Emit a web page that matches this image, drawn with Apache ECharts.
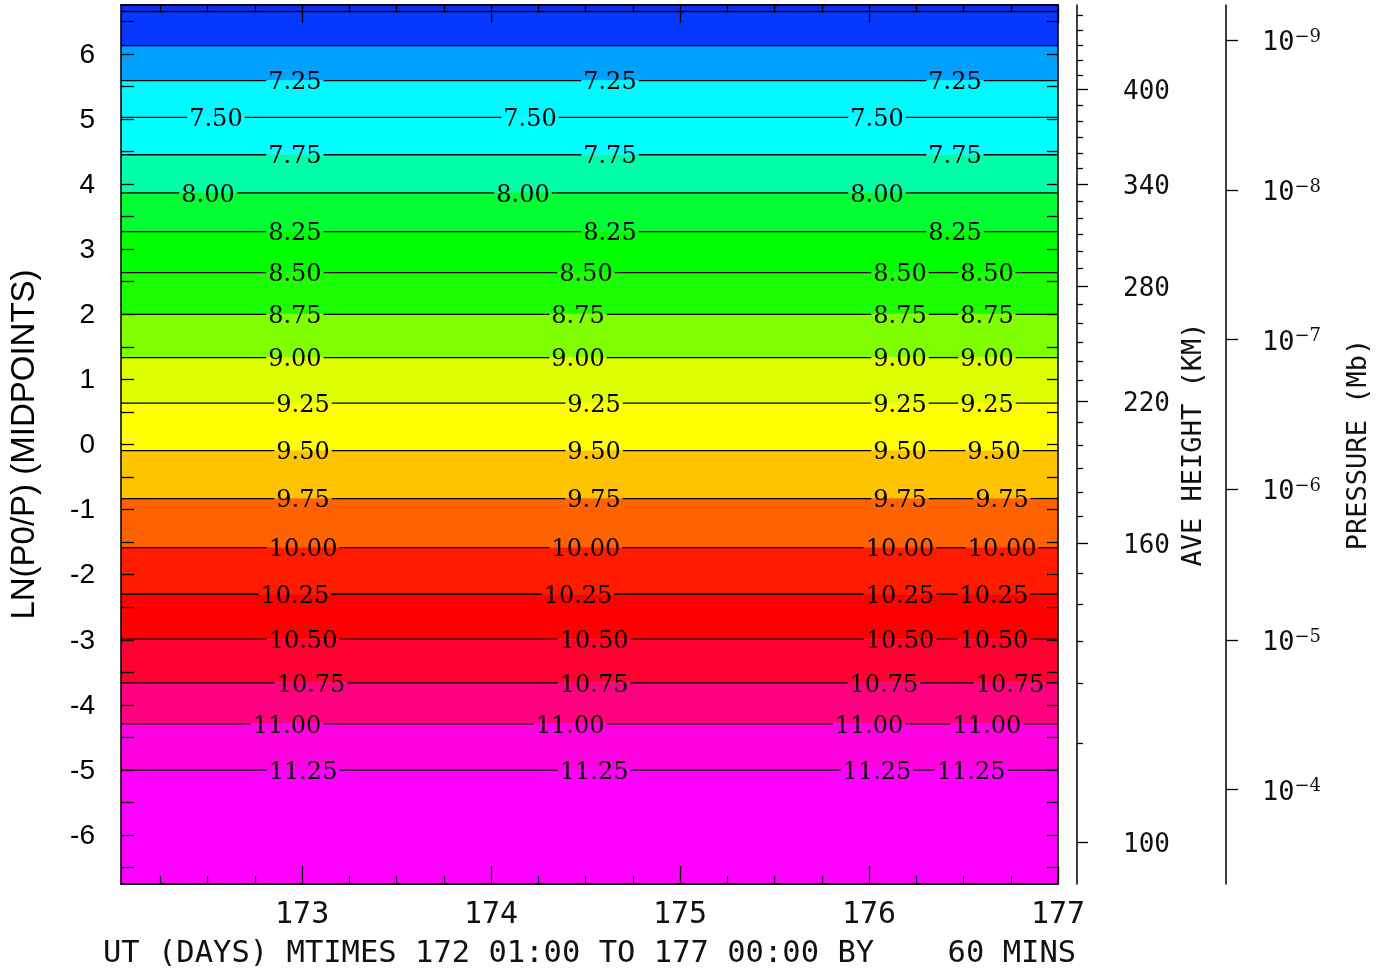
<!DOCTYPE html>
<html>
<head>
<meta charset="utf-8">
<script src="https://cdn.jsdelivr.net/npm/echarts@6/dist/echarts.min.js"></script>
<style>html,body{margin:0;padding:0;background:#fff}#c{width:1387px;height:971px}</style>
</head>
<body>
<div id="c"></div>
<script>
// ---- data ----
const timeStart = 172 + 1 / 24;
const timeEnd = 177;
const zpMin = -6.75;
const zpMax = 6.75;
const xMajorTicks = [173, 174, 175, 176, 177];
const xMinorTicks = [172.25, 172.5, 172.75, 173.25, 173.5, 173.75, 174.25, 174.5, 174.75,
  175.25, 175.5, 175.75, 176.25, 176.5, 176.75];
const yTicks = [-6.5, -6, -5.5, -5, -4.5, -4, -3.5, -3, -2.5, -2, -1.5, -1, -0.5, 0,
  0.5, 1, 1.5, 2, 2.5, 3, 3.5, 4, 4.5, 5, 5.5, 6, 6.5];
const yLabels = [-6, -5, -4, -3, -2, -1, 0, 1, 2, 3, 4, 5, 6];

const contourLevels = [6.75, 7.00, 7.25, 7.50, 7.75, 8.00, 8.25, 8.50, 8.75, 9.00, 9.25,
  9.50, 9.75, 10.00, 10.25, 10.50, 10.75, 11.00, 11.25];
const contourZp = [6.65, 6.125, 5.59, 5.025, 4.45, 3.865, 3.27, 2.64, 2.00, 1.335, 0.635,
  -0.095, -0.83, -1.585, -2.30, -2.99, -3.66, -4.29, -5.00];
const contourLabelTimes = [
  [],
  [],
  [172.962, 174.629, 176.455],
  [172.544, 174.206, 176.042],
  [172.962, 174.629, 176.455],
  [172.502, 174.169, 176.042],
  [172.962, 174.629, 176.455],
  [172.962, 174.502, 176.164, 176.624],
  [172.962, 174.460, 176.164, 176.624],
  [172.962, 174.460, 176.164, 176.624],
  [173.005, 174.545, 176.164, 176.624],
  [173.005, 174.545, 176.164, 176.661],
  [173.005, 174.545, 176.164, 176.704],
  [173.005, 174.502, 176.164, 176.704],
  [172.962, 174.460, 176.164, 176.661],
  [173.005, 174.545, 176.164, 176.661],
  [173.047, 174.545, 176.079, 176.746],
  [172.920, 174.418, 176.000, 176.624],
  [173.005, 174.545, 176.042, 176.540]
];
const bandColors = ['#0a30f8', '#0638ff', '#00a0ff', '#00f8ff', '#00ffff', '#00ffaa',
  '#00ff33', '#00ff00', '#1cff00', '#80ff00', '#ddff00', '#ffff00', '#ffc400', '#ff6200',
  '#ff1a00', '#ff0000', '#ff0030', '#ff0080', '#ff00e0', '#ff00ff'];

const heightMajorKm = [100, 160, 220, 280, 340, 400];
const heightMajorZp = [-6.106, -1.513, 0.668, 2.434, 4.001, 5.458];
const heightMinorKm = [110, 120, 130, 140, 150, 170, 180, 190, 200, 210, 230, 240, 250, 260, 270,
  290, 300, 310, 320, 330, 350, 360, 370, 380, 390, 410, 420, 430, 440, 450];
const heightMinorZp = [-4.585, -3.663, -3.018, -2.450, -1.974, -1.098, -0.730, -0.361, -0.008, 0.346,
  0.991, 1.283, 1.574, 1.866, 2.158, 2.711, 2.972, 3.233, 3.479, 3.740,
  4.246, 4.477, 4.722, 4.968, 5.213, 5.676, 5.906, 6.136, 6.362, 6.586];
const pressureExp = [-9, -8, -7, -6, -5, -4];
const pressureZp = [6.21, 3.91, 1.61, -0.69, -3.00, -5.30];

// ---- chart ----
const MONO = 'DejaVu Sans Mono';
const TXT = '#111';
const labelFont = '24px "DejaVu Serif"';
const measureCtx = document.createElement('canvas').getContext('2d');
measureCtx.font = labelFont;

function nearestIndex(arr, v) {
  let bi = 0, bd = Infinity;
  arr.forEach((a, i) => { const d = Math.abs(a - v); if (d < bd) { bd = d; bi = i; } });
  return bi;
}

const chart = echarts.init(document.getElementById('c'), null, {renderer: 'canvas'});

const axisLineStyle = {color: '#000', width: 1.5};
const tickStyle = {color: '#000', width: 1.3};

function xAx(pos, ticks, len, withLabel) {
  const a = {
    type: 'value', position: pos, min: timeStart, max: timeEnd, z: 10,
    axisLine: {show: true, onZero: false, lineStyle: axisLineStyle},
    axisTick: {show: true, inside: true, length: len, customValues: ticks, lineStyle: tickStyle},
    axisLabel: {show: false},
    splitLine: {show: false}
  };
  if (withLabel) {
    a.axisLabel = {show: true, customValues: xMajorTicks, margin: 16,
      fontFamily: MONO, fontSize: 30, color: TXT};
    a.name = 'UT (DAYS) MTIMES 172 01:00 TO 177 00:00 BY    60 MINS';
    a.nameLocation = 'middle';
    a.nameGap = 55;
    a.nameTextStyle = {fontFamily: MONO, fontSize: 30.5, color: TXT};
  }
  return a;
}

const option = {
  animation: false,
  backgroundColor: '#fff',
  grid: {left: 121, right: 329, top: 5, bottom: 87, containLabel: false, outerBoundsMode: 'none'},
  xAxis: [
    xAx('bottom', xMajorTicks, 18, true),
    xAx('bottom', xMinorTicks, 8, false),
    xAx('top', xMajorTicks, 18, false),
    xAx('top', xMinorTicks, 8, false)
  ],
  yAxis: [
    {
      type: 'value', position: 'left', min: zpMin, max: zpMax, z: 10,
      axisLine: {show: true, onZero: false, lineStyle: axisLineStyle},
      axisTick: {show: true, inside: true, length: 13, customValues: yTicks, lineStyle: tickStyle},
      axisLabel: {show: true, customValues: yLabels, margin: 26,
        verticalAlign: 'top', lineHeight: 2,
        fontFamily: 'Liberation Sans', fontSize: 28, color: '#000'},
      splitLine: {show: false},
      name: 'LN(P0/P) (MIDPOINTS)', nameLocation: 'middle', nameRotate: 90, nameGap: 80,
      nameTextStyle: {fontFamily: 'Liberation Sans', fontSize: 33, color: '#000'}
    },
    {
      type: 'value', position: 'right', offset: 0, min: zpMin, max: zpMax, z: 10,
      axisLine: {show: true, onZero: false, lineStyle: axisLineStyle},
      axisTick: {show: true, inside: true, length: 11, customValues: yTicks, lineStyle: tickStyle},
      axisLabel: {show: false}, splitLine: {show: false}
    },
    {
      type: 'value', position: 'right', offset: 19, min: zpMin, max: zpMax, z: 10,
      axisLine: {show: true, onZero: false, lineStyle: axisLineStyle},
      axisTick: {show: true, inside: false, length: 11, customValues: heightMajorZp, lineStyle: tickStyle},
      axisLabel: {show: true, customValues: heightMajorZp, margin: 46,
        verticalAlign: 'top', lineHeight: 6,
        fontFamily: MONO, fontSize: 26, color: TXT,
        formatter: v => String(heightMajorKm[nearestIndex(heightMajorZp, v)])},
      splitLine: {show: false},
      name: 'AVE HEIGHT (KM)', nameLocation: 'middle', nameRotate: 90, nameGap: 92,
      nameTextStyle: {fontFamily: MONO, fontSize: 27, color: TXT}
    },
    {
      type: 'value', position: 'right', offset: 19, min: zpMin, max: zpMax, z: 10,
      axisLine: {show: false},
      axisTick: {show: true, inside: false, length: 6, customValues: heightMinorZp, lineStyle: tickStyle},
      axisLabel: {show: false}, splitLine: {show: false}
    },
    {
      type: 'value', position: 'right', offset: 168, min: zpMin, max: zpMax, z: 10,
      axisLine: {show: true, onZero: false, lineStyle: axisLineStyle},
      axisTick: {show: true, inside: false, length: 12, customValues: pressureZp, lineStyle: tickStyle},
      axisLabel: {show: true, customValues: pressureZp, margin: 36, padding: [6, 0, 0, 0],
        formatter: v => '{b|10}{s|\u2212' + Math.abs(pressureExp[nearestIndex(pressureZp, v)]) + '}',
        rich: {
          b: {fontFamily: MONO, fontSize: 27, color: TXT, lineHeight: 30},
          s: {fontFamily: 'DejaVu Serif', fontSize: 18, color: TXT, lineHeight: 2, verticalAlign: 'top'}
        }},
      splitLine: {show: false},
      name: 'PRESSURE (Mb)', nameLocation: 'middle', nameRotate: 90, nameGap: 119,
      nameTextStyle: {fontFamily: MONO, fontSize: 27, color: TXT}
    }
  ],
  series: [
    {
      type: 'custom', name: 'bands', xAxisIndex: 0, yAxisIndex: 0, silent: true, z: 2,
      data: bandColors.map((c, i) => [i]),
      renderItem: (params, api) => {
        const i = api.value(0);
        const upper = i === 0 ? zpMax : contourZp[i - 1];
        const lower = i === contourZp.length ? zpMin : contourZp[i];
        const p1 = api.coord([timeStart, upper]);
        const p2 = api.coord([timeEnd, upper]);
        const p3 = api.coord([timeEnd, lower]);
        const p4 = api.coord([timeStart, lower]);
        return {type: 'polygon', shape: {points: [p1, p2, p3, p4]},
          style: {fill: bandColors[i], stroke: bandColors[i], lineWidth: 0.5}};
      }
    },
    {
      type: 'custom', name: 'contours', xAxisIndex: 0, yAxisIndex: 0, silent: true, z: 3,
      data: contourLevels.map((v, i) => [i]),
      renderItem: (params, api) => {
        const i = api.value(0);
        const z = contourZp[i];
        const a = api.coord([timeStart, z]);
        const b = api.coord([timeEnd, z]);
        const y = a[1];
        const text = contourLevels[i].toFixed(2);
        const w = measureCtx.measureText(text).width;
        const children = [];
        const gaps = contourLabelTimes[i].map(t => {
          const cx = api.coord([t, z])[0];
          children.push({type: 'text', style: {text: text, x: cx, y: y + 2.5, align: 'center',
            verticalAlign: 'middle', font: labelFont, fill: '#000'}});
          return [cx - w / 2 - 2, cx + w / 2 + 2];
        }).sort((p, q) => p[0] - q[0]);
        let cur = a[0];
        gaps.forEach(g => {
          if (g[0] > cur) children.push({type: 'line', shape: {x1: cur, y1: y, x2: g[0], y2: y},
            style: {stroke: '#000', lineWidth: 1.3}});
          cur = g[1];
        });
        if (b[0] > cur) children.push({type: 'line', shape: {x1: cur, y1: y, x2: b[0], y2: y},
          style: {stroke: '#000', lineWidth: 1.3}});
        return {type: 'group', children: children};
      }
    }
  ]
};
chart.setOption(option);
</script>
</body>
</html>
